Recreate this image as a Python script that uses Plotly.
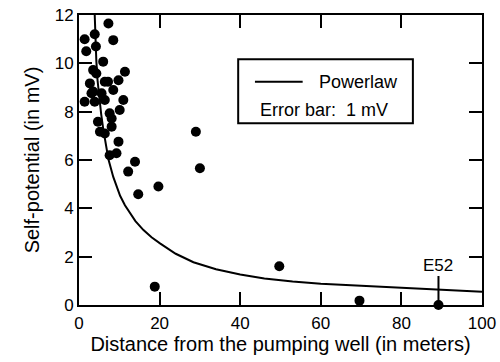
import plotly.graph_objects as go

# Measured self-potential points
dist_m = [7.3, 1.4, 3.9, 8.5, 1.8, 4.2, 6.0, 3.5, 11.4, 4.3, 2.7, 6.4, 9.8, 8.5, 3.5,
          1.4, 3.9, 6.4, 11.0, 7.6, 10.1, 8.1, 4.7, 8.1, 5.2, 6.4, 9.8, 7.6, 9.3, 13.9,
          12.2, 19.7, 14.7, 29.0, 30.0, 49.7, 18.8, 69.6, 89.2, 5.6, 7.2, 3.1]
sp_mv = [11.65, 11.0, 11.2, 10.96, 10.5, 10.7, 10.07, 9.72, 9.65, 9.58, 9.17, 9.24, 9.3, 8.9, 8.83,
         8.41, 8.41, 8.48, 8.48, 7.93, 8.07, 7.72, 7.58, 7.38, 7.17, 7.1, 6.76, 6.2, 6.28, 5.93,
         5.52, 4.9, 4.58, 7.17, 5.66, 1.6, 0.76, 0.18, 0.0, 8.76, 9.24, 8.76]

# Power-law curve
curve_x = [3.9, 4.0, 4.3, 4.6, 5.0, 5.5, 6.0, 6.5, 7.3, 8.5, 9.3, 10.2, 11.4, 12.7, 14.0,
           16.0, 18.0, 20.1, 24, 28.4, 34, 40, 46, 53, 60, 70, 80, 89, 100]
curve_y = [12.0, 11.2, 10.1, 9.3, 8.6, 7.9, 7.3, 6.75, 6.03, 5.3, 4.9, 4.52, 4.13, 3.77, 3.47,
           3.1, 2.8, 2.55, 2.12, 1.77, 1.48, 1.26, 1.1, 0.97, 0.88, 0.8, 0.72, 0.66, 0.55]

x_ticks = [0, 20, 40, 60, 80, 100]
y_ticks = [0, 2, 4, 6, 8, 10, 12]

FONT = "Liberation Sans, Arial, Helvetica, sans-serif"

fig = go.Figure()
fig.add_trace(go.Scatter(x=curve_x, y=curve_y, mode="lines",
                         line=dict(color="black", width=2),
                         showlegend=False, hoverinfo="skip"))
fig.add_trace(go.Scatter(x=dist_m, y=sp_mv, mode="markers",
                         marker=dict(color="black", size=10),
                         showlegend=False, cliponaxis=False))

axis_common = dict(showline=True, linecolor="black", linewidth=2, mirror="allticks",
                   ticks="inside", ticklen=13, tickwidth=2, tickcolor="black",
                   showgrid=False, zeroline=False, automargin=False,
                   tickfont=dict(family=FONT, size=17, color="black"))

fig.update_xaxes(range=[0, 100], tickvals=x_ticks, ticktext=[str(v) for v in x_ticks],
                 ticklabelstandoff=2,
                 title=dict(text="Distance from the pumping well (in meters)",
                            font=dict(family=FONT, size=20, color="black"), standoff=4),
                 **axis_common)
fig.update_yaxes(range=[0, 12], tickvals=y_ticks, ticktext=[str(v) for v in y_ticks],
                 title=dict(text="Self-potential (in mV)",
                            font=dict(family=FONT, size=20, color="black"), standoff=10),
                 **axis_common)

# Legend box
fig.add_shape(type="rect", xref="paper", yref="paper", x0=0.395, x1=0.8285, y0=0.6266, y1=0.847,
              line=dict(color="black", width=2), fillcolor="white", layer="above")
fig.add_shape(type="line", xref="paper", yref="paper", x0=0.4366, x1=0.555, y0=0.77, y1=0.77,
              line=dict(color="black", width=2))
fig.add_annotation(xref="paper", yref="paper", x=0.5907, y=0.77, text="Powerlaw",
                   showarrow=False, xanchor="left", yanchor="middle",
                   font=dict(family=FONT, size=18, color="black"))
fig.add_annotation(xref="paper", yref="paper", x=0.609, y=0.672, text="Error bar:  1 mV",
                   showarrow=False, xanchor="center", yanchor="middle",
                   font=dict(family=FONT, size=18, color="black"))

# E52 label
fig.add_annotation(x=89.2, y=0, text="E52", showarrow=True, arrowhead=0, arrowwidth=2,
                   arrowcolor="black", ax=0, ay=-40, standoff=0,
                   font=dict(family=FONT, size=17, color="black"))

fig.update_layout(width=500, height=362, margin=dict(l=79, r=18, t=15, b=57),
                  plot_bgcolor="white", paper_bgcolor="white", showlegend=False)

fig.write_html("out.html")
